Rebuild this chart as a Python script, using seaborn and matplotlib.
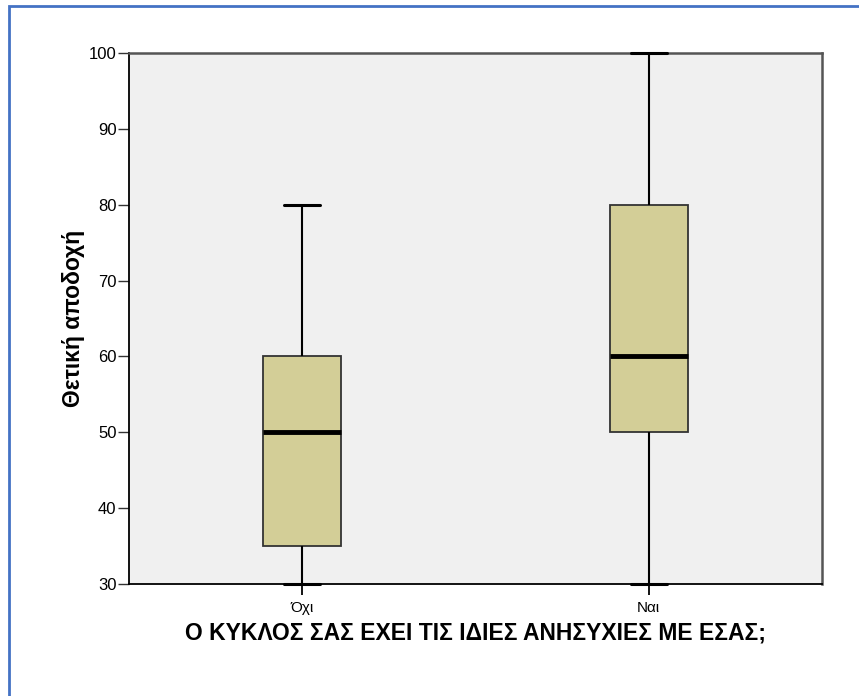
import pandas as pd
import numpy as np
import matplotlib.pyplot as plt
import seaborn as sns
from matplotlib.patches import Rectangle

# DATOS (min, Q1, mediana, Q3, max)
categorias = ['Όχι', 'Ναι']
valores_oxi = [30, 35, 35, 50, 60, 60, 80]
valores_nai = [30, 50, 50, 60, 80, 80, 100]
y_ticks = [30, 40, 50, 60, 70, 80, 90, 100]

df = pd.DataFrame({
    'grupo': [categorias[0]] * len(valores_oxi) + [categorias[1]] * len(valores_nai),
    'valor': valores_oxi + valores_nai,
})

sns.set_style('white', {'xtick.bottom': True, 'ytick.left': True})
plt.rcParams['font.family'] = ['Liberation Sans', 'DejaVu Sans']
plt.rcParams['text.color'] = 'black'
plt.rcParams['axes.labelcolor'] = 'black'

fig = plt.figure(figsize=(8.59, 6.96), dpi=100)
ax = fig.add_axes([129 / 859, 1 - 584 / 696, (822 - 129) / 859, (584 - 53) / 696])
ax.set_facecolor('#F0F0F0')

sns.boxplot(
    data=df, x='grupo', y='valor', order=categorias, ax=ax,
    whis=(0, 100), width=0.225, color='#D3CE97', saturation=1,
    linewidth=1.3, linecolor='#333333',
    boxprops={'edgecolor': '#333333'},
    medianprops={'color': 'black', 'linewidth': 3.5},
    whiskerprops={'color': 'black', 'linewidth': 1.5},
    capprops={'color': 'black', 'linewidth': 2.2},
    capwidths=0.105,
)

# que los bigotes en 30 y 100 no se recorten y queden sobre los ejes
for linea in ax.lines:
    linea.set_clip_on(False)
    linea.set_zorder(4)

ax.set_xlim(-0.5, 1.5)
ax.set_ylim(30, 100)
ax.set_yticks(y_ticks)
ax.tick_params(axis='y', labelsize=12, length=8, width=1, color='#333333',
               labelcolor='black', left=True, pad=1)
ax.tick_params(axis='x', labelsize=11, length=8, width=1.3, color='black',
               labelcolor='black', bottom=True, direction='out', pad=4)
ax.xaxis.set_zorder(5)

for lado in ['left', 'bottom']:
    ax.spines[lado].set_color('black')
    ax.spines[lado].set_linewidth(1.3)
for lado in ['top', 'right']:
    ax.spines[lado].set_color('#555555')
    ax.spines[lado].set_linewidth(1.8)

ax.set_ylabel('Θετική αποδοχή', fontsize=16.5, fontweight='bold', labelpad=3)
ax.set_xlabel('Ο ΚΥΚΛΟΣ ΣΑΣ ΕΧΕΙ ΤΙΣ ΙΔΙΕΣ ΑΝΗΣΥΧΙΕΣ ΜΕ ΕΣΑΣ;',
              fontsize=16.5, fontweight='bold', labelpad=5)

# Borde azul del marco
fig.patches.append(Rectangle((8.5 / 859, -0.05), 1.1, 1 - 5.5 / 696 + 0.05,
                             transform=fig.transFigure, fill=False,
                             edgecolor='#4472C4', linewidth=2, zorder=10))

plt.savefig('out.png', dpi=100)
plt.close()
